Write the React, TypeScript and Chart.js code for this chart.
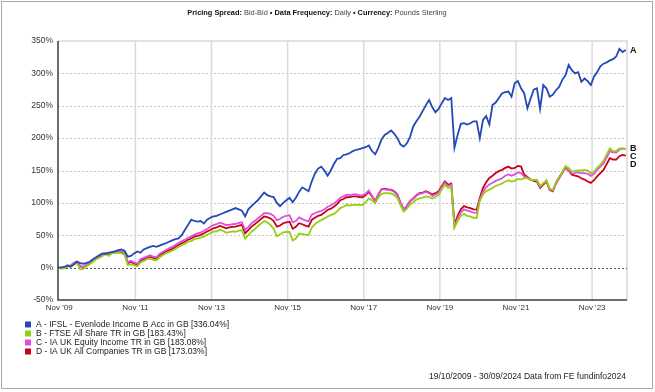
import React, { useEffect, useRef } from "react";
import { Chart, registerables } from "chart.js";
Chart.register(...registerables);

// Monthly samples from 19/10/2009 (index 0) to 30/09/2024 (index 179), cumulative % return
const seriesA = [
  0, 0.5, 1, 3.5, 1.5, 5, 9, 7, 6, 7.5, 9, 13, 16, 19, 22, 21, 23, 24, 25, 27,
  28, 26, 17, 18, 22, 25, 23, 28, 30, 32, 33.5, 32, 34, 36, 37.6, 40, 42, 44, 45, 50,
  58, 66, 74, 72, 71, 72, 68, 74, 77, 79, 80, 82, 84, 86, 88, 90, 92, 90, 88, 79,
  90, 95, 99.5, 104, 110, 116, 112, 110, 109, 100, 95, 100, 104, 108, 101, 108, 117, 124, 121, 118,
  133, 145, 153, 156, 150, 142, 150, 160, 168, 169, 174, 175, 177, 180, 182, 183, 184.6, 186, 188.7, 180,
  175, 185, 198, 205, 208, 212, 207, 200, 190, 187, 192, 202, 218, 226, 233, 242, 251, 259, 248, 240,
  245, 254, 262, 259, 262, 185, 205, 222, 223, 221, 223, 226, 226, 200, 228, 234, 221, 251, 255, 262,
  269, 271, 272, 264, 285, 288, 277, 269, 246, 261, 275, 277, 245, 282, 277, 264, 267, 274, 279, 290,
  297, 313, 305, 300, 302, 287, 292, 288, 282, 295, 302, 311, 315, 317, 320, 322, 326, 338, 333, 336.04,
];
const seriesB = [
  0, -1.5, -1, 1, 2, 5, 7, -3, -2, 2, 5, 9, 13, 15, 18, 21, 18, 22, 23, 23,
  22, 20, 4, 5, 4, 2, 8, 10, 13, 14, 12, 11, 16, 19, 22, 24, 26, 29, 32, 34.6,
  37, 40, 41, 44, 45, 46.5, 48, 50.7, 53, 55.8, 56, 58.4, 57, 53.8, 55, 56, 55.4, 57, 58, 45,
  50, 55.4, 59, 64, 68, 72, 70, 66, 60, 48.4, 51, 54.6, 55, 55, 42, 45, 52.6, 52, 51, 50.4,
  61.7, 67, 71, 73.4, 76, 79, 81, 83, 87, 92, 94, 96.7, 96, 97, 97, 97, 96.7, 101, 107, 104,
  99.6, 108, 114, 115, 115, 114.5, 112, 107.8, 96, 86.7, 91, 97.6, 101, 105, 107, 108, 110, 109, 106.8, 109,
  112, 121, 128, 123, 125, 62, 72, 80, 83, 80, 79, 77, 76.7, 103, 113, 118, 120.5, 123, 126, 128,
  130, 133, 135, 133, 134, 137, 136, 138.6, 138, 136, 135, 135, 126, 130, 135, 122, 120, 132, 140.5, 148,
  157, 154, 148.6, 149, 150, 150, 151, 150, 145.8, 148, 154, 159, 165, 175, 184, 180, 179.7, 184, 184, 183.43,
];
const seriesC = [
  0, -1, 0, 2.5, 3.5, 7.5, 9.5, 2, 1, 4.5, 7.5, 10.5, 15, 18, 21, 23, 21, 24, 25, 26,
  25, 23, 8.5, 10.5, 8, 6, 13, 15, 17, 19, 17, 16, 21, 24, 27, 30, 32, 35, 38, 40.6,
  43, 46, 48, 51, 53, 54.5, 57, 59.7, 63, 65.8, 67, 69.4, 68, 65.8, 66, 67, 67.4, 69, 70, 58,
  63, 68.4, 72, 76, 80, 84, 84, 83, 80, 73.4, 75, 78.6, 80, 81, 70, 72, 77.6, 75, 73, 71.4,
  81.7, 84, 86, 87.4, 90, 94, 96, 99, 103, 108, 110, 112.7, 112, 113, 113, 112, 111.7, 114, 119, 111,
  103.6, 113, 121, 121, 120, 119.5, 117, 111.8, 100, 89.7, 95, 102.6, 106, 111, 114, 115, 117, 115, 110.8, 113,
  116, 124, 131, 126, 128, 63, 76, 85, 90, 88, 87, 85, 84.7, 105, 117, 124, 128.5, 131, 134, 136,
  138, 142, 144, 142, 144, 147, 146, 140.6, 139, 136, 135, 135, 125, 130, 134, 121, 119, 130, 138.5, 146,
  154, 151, 145.6, 146, 147, 146, 146, 145, 141.8, 145, 151, 156, 161, 170, 180, 178, 177.7, 182, 184, 183.08,
];
const seriesD = [
  0, -1, 0, 2, 3, 7, 9, 2, 1, 4, 7, 10, 14, 17, 20, 22, 20, 23, 24, 25,
  24, 22, 7, 9, 6, 4, 11, 13, 15, 17, 15, 14, 19, 22, 25, 27, 29, 32, 35, 37.6,
  40, 43, 45, 48, 49, 50.5, 53, 55.7, 58, 60.8, 62, 64.4, 63, 60.8, 62, 63, 63.4, 65, 66, 53,
  58, 63.4, 67, 71, 75, 79, 78, 76, 72, 63.4, 65, 68.6, 70, 71, 60, 63, 68.6, 67, 65, 63.4,
  73.7, 77, 80, 81.4, 85, 89, 91, 94, 98, 104, 106, 108.7, 109, 110, 110, 109, 108.7, 112, 117, 110,
  102.6, 113, 121, 122, 121, 120.5, 118, 112.8, 100, 89.7, 95, 102.6, 107, 112, 115, 116, 118, 116, 112.8, 115,
  118, 126, 133, 128, 130, 67, 80, 90, 95, 93, 92, 90, 89.7, 108, 123, 132, 138.5, 142, 146, 149,
  151, 154, 156, 153, 154, 157, 156, 143.6, 140, 136, 134, 133, 123, 128, 133, 120, 118, 130, 138.5, 146,
  154, 150, 143.6, 142, 141, 138, 136, 133, 130.8, 135, 141, 146, 151, 160, 169, 167, 166.7, 172, 174, 173.03,
];

const seriesLetters = ["A", "B", "C", "D"];
const seriesNames = [
  "A - IFSL - Evenlode Income B Acc in GB [336.04%]",
  "B - FTSE All Share TR in GB [183.43%]",
  "C - IA UK Equity Income TR in GB [183.08%]",
  "D - IA UK All Companies TR in GB [173.03%]",
];
const seriesColors = ["#2448b6", "#94d010", "#e04fdc", "#c8001a"];

// x ticks: months since 19/10/2009
const xTickMonths = [0.4, 24.4, 48.4, 72.4, 96.4, 120.4, 144.4, 168.4];
const xTickLabels = ["Nov '09", "Nov '11", "Nov '13", "Nov '15", "Nov '17", "Nov '19", "Nov '21", "Nov '23"];
const yTickValues = [-50, 0, 50, 100, 150, 200, 250, 300, 350];

const titleParts: [string, boolean][] = [
  ["Pricing Spread:", true],
  [" Bid-Bid ", false],
  ["\u2022", true],
  [" Data Frequency:", true],
  [" Daily ", false],
  ["\u2022", true],
  [" Currency:", true],
  [" Pounds Sterling", false],
];
const footerText = "19/10/2009 - 30/09/2024 Data from FE fundinfo2024";

const FONT = "'Liberation Sans', Arial, sans-serif";

const decorPlugin = {
  id: "decor",
  beforeDatasetsDraw(chart: any) {
    const { ctx, chartArea: a, scales } = chart;
    const x = scales.x;
    const y = scales.y;
    ctx.save();
    ctx.lineWidth = 1;
    ctx.strokeStyle = "#c4c4c4";
    ctx.setLineDash([2, 2]);
    yTickValues.forEach((v) => {
      if (v === -50 || v === 0 || v === 350) return;
      const py = Math.round(y.getPixelForValue(v)) + 0.5;
      ctx.beginPath();
      ctx.moveTo(a.left, py);
      ctx.lineTo(a.right, py);
      ctx.stroke();
    });
    ctx.setLineDash([]);
    ctx.strokeStyle = "#dadada";
    ctx.lineWidth = 1.5;
    xTickMonths.forEach((m, i) => {
      if (i === 0) return;
      const px = x.getPixelForValue(m);
      ctx.beginPath();
      ctx.moveTo(px, a.top);
      ctx.lineTo(px, a.bottom);
      ctx.stroke();
    });
    ctx.strokeStyle = "#d8d8d8";
    ctx.lineWidth = 1.5;
    ctx.beginPath();
    ctx.moveTo(a.left, a.top);
    ctx.lineTo(a.right, a.top);
    ctx.lineTo(a.right, a.bottom);
    ctx.stroke();
    const zy = Math.round(y.getPixelForValue(0)) + 0.5;
    ctx.strokeStyle = "#555";
    ctx.lineWidth = 1;
    ctx.setLineDash([2, 2]);
    ctx.beginPath();
    ctx.moveTo(a.left, zy);
    ctx.lineTo(a.right, zy);
    ctx.stroke();
    ctx.restore();
  },
  afterDatasetsDraw(chart: any) {
    const { ctx, chartArea: a } = chart;
    ctx.save();
    ctx.strokeStyle = "#3c3c3c";
    ctx.lineWidth = 1.5;
    ctx.beginPath();
    ctx.moveTo(a.left, a.top);
    ctx.lineTo(a.left, a.bottom);
    ctx.lineTo(a.right, a.bottom);
    ctx.stroke();
    ctx.font = "bold 9px " + FONT;
    ctx.fillStyle = "#111";
    ctx.textAlign = "left";
    ctx.textBaseline = "middle";
    let prev = -Infinity;
    seriesLetters.forEach((L, i) => {
      const meta = chart.getDatasetMeta(i);
      const pt = meta.data[meta.data.length - 1];
      let ly = pt.y;
      if (i > 0) ly = Math.max(ly, prev + 8);
      prev = ly;
      ctx.fillText(L, a.right + 3, ly);
    });
    ctx.restore();
  },
  afterDraw(chart: any) {
    const { ctx } = chart;
    ctx.save();
    ctx.textBaseline = "middle";
    ctx.textAlign = "left";
    const tSize = "7.4px ";
    let total = 0;
    const widths = titleParts.map(([t, b]) => {
      ctx.font = (b ? "bold " : "") + tSize + FONT;
      const w = ctx.measureText(t).width;
      total += w;
      return w;
    });
    let tx = 317 - total / 2;
    titleParts.forEach(([t, b], i) => {
      ctx.font = (b ? "bold " : "") + tSize + FONT;
      ctx.fillStyle = b ? "#111" : "#444";
      ctx.fillText(t, tx, 13);
      tx += widths[i];
    });
    ctx.font = "8.5px " + FONT;
    seriesNames.forEach((name, i) => {
      const ly = 324.5 + i * 9;
      ctx.fillStyle = seriesColors[i];
      ctx.fillRect(25, ly - 3, 6, 6);
      ctx.fillStyle = "#222";
      ctx.fillText(name, 36, ly);
    });
    ctx.textAlign = "right";
    ctx.fillStyle = "#222";
    ctx.font = "8.5px " + FONT;
    ctx.fillText(footerText, 626, 377);
    ctx.restore();
  },
};

export default function App() {
  const ref = useRef<HTMLCanvasElement | null>(null);
  useEffect(() => {
    if (!ref.current) return;
    const mk = (arr: number[]) => arr.map((v, i) => ({ x: i, y: v }));
    const all = [seriesA, seriesB, seriesC, seriesD];
    const chart = new Chart(ref.current, {
      type: "line",
      data: {
        datasets: all.map((arr, i) => ({
          label: seriesNames[i],
          data: mk(arr),
          borderColor: seriesColors[i],
          backgroundColor: seriesColors[i],
          borderWidth: 1.8,
          pointRadius: 0,
          tension: 0,
          fill: false,
        })),
      },
      options: {
        animation: false,
        responsive: false,
        maintainAspectRatio: false,
        devicePixelRatio: 1,
        layout: { padding: { left: 0, top: 41, right: 28, bottom: 0 } },
        plugins: { legend: { display: false }, title: { display: false }, tooltip: { enabled: false } },
        scales: {
          x: {
            type: "linear",
            min: 0,
            max: 179.4,
            grid: { display: false, drawTicks: false },
            border: { display: false },
            afterFit: (s: any) => {
              s.height = 92;
            },
            afterBuildTicks: (s: any) => {
              s.ticks = xTickMonths.map((v) => ({ value: v }));
            },
            ticks: {
              autoSkip: false,
              maxRotation: 0,
              padding: 3,
              color: "#333",
              font: { family: FONT, size: 8 },
              callback: (_v: any, idx: number) => xTickLabels[idx],
            },
          },
          y: {
            type: "linear",
            min: -50,
            max: 350,
            grid: { display: false, drawTicks: false },
            border: { display: false },
            afterFit: (s: any) => {
              s.width = 58;
            },
            afterBuildTicks: (s: any) => {
              s.ticks = yTickValues.map((v) => ({ value: v }));
            },
            ticks: {
              padding: 5,
              color: "#333",
              font: { family: FONT, size: 8.5 },
              callback: (v: any) => v + "%",
            },
          },
        },
      },
      plugins: [decorPlugin],
    });
    return () => chart.destroy();
  }, []);
  return (
    <div style={{ position: "absolute", left: 0, top: 0, width: 655, height: 392, background: "#fff" }}>
      <div
        style={{
          position: "absolute",
          left: 1,
          top: 1,
          width: 652,
          height: 388,
          boxSizing: "border-box",
          border: "1px solid #a8a8a8",
        }}
      />
      <canvas ref={ref} width={655} height={392} style={{ position: "absolute", left: 0, top: 0, width: 655, height: 392 }} />
    </div>
  );
}
